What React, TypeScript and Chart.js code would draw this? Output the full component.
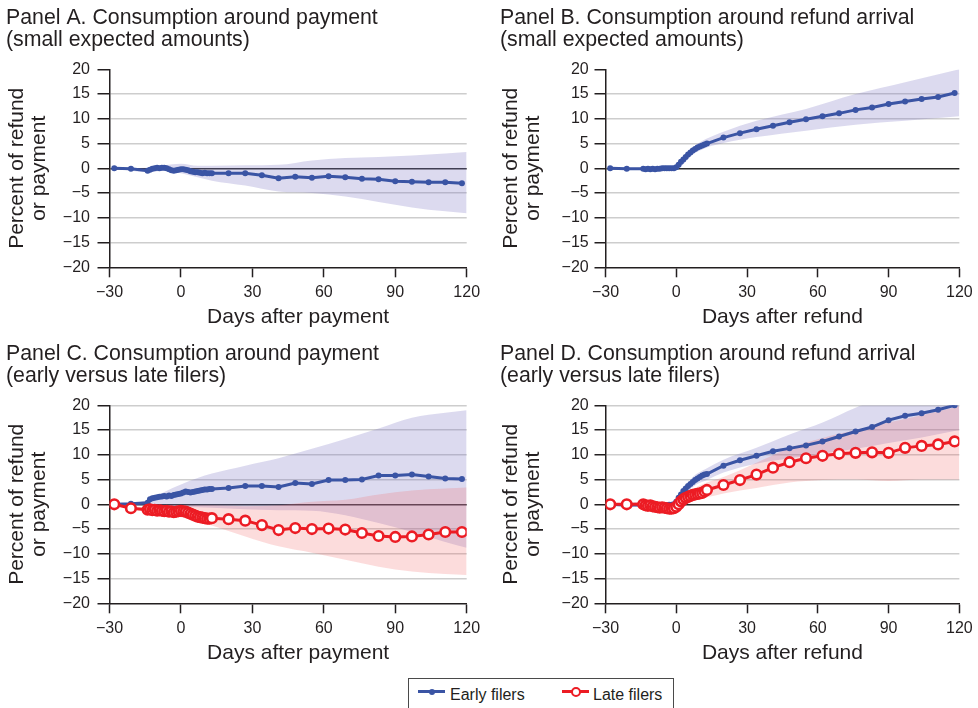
import React, { useEffect, useRef } from 'react';
import { Chart, registerables } from 'chart.js';

Chart.register(...registerables);

const FONT = "'Liberation Sans', Arial, Helvetica, sans-serif";
const INK = '#231f20';
const BLUE = '#3a54a4';
const RED = '#ec1c24';
const BLUE_BAND = 'rgba(125,120,195,0.27)';
const RED_BAND = 'rgba(240,95,95,0.22)';

// ---------- data ----------
const dayAxis = [
  -28, -21,
  -14, -13, -12, -11, -10, -9, -8, -7, -6, -5, -4, -3, -2, -1,
  0, 1, 2, 3, 4, 5, 6, 7, 8, 9, 10, 11, 12, 13,
  20, 27, 34, 41, 48, 55, 62, 69, 76, 83, 90, 97, 104, 111, 118,
];

const xTickValues = [-30, 0, 30, 60, 90, 120];
const yTickValues = [-20, -15, -10, -5, 0, 5, 10, 15, 20];

// Panel A: consumption around payment (small expected amounts)
const smallPayEffect = [
  0, -0.1,
  -0.5, -0.3, -0.1, 0, 0.1, 0, 0.1, 0.1, 0, -0.2, -0.4, -0.5, -0.4, -0.3,
  -0.2, -0.2, -0.3, -0.4, -0.6, -0.7, -0.8, -0.8, -0.9, -1.0, -0.9, -1.0, -1.0, -1.0,
  -1.0, -1.0, -1.4, -2.0, -1.7, -1.9, -1.6, -1.8, -2.1, -2.2, -2.6, -2.7, -2.8, -2.8, -3.0,
];
const bandDaysA = [-28, -14, -7, 0, 7, 13, 27, 41, 55, 69, 83, 97, 111, 120];
const smallPayUpper = [0, 0.1, 0.6, 0.9, 0.5, 0.5, 0.6, 0.7, 1.6, 2.1, 2.3, 2.6, 3.0, 3.3];
const smallPayLower = [0, -0.8, -0.5, -1.0, -1.8, -2.5, -3.5, -4.7, -5.0, -5.7, -6.8, -7.9, -8.7, -9.1];

// Panel B: consumption around refund arrival (small expected amounts)
const smallRefEffect = [
  0, -0.1,
  -0.1, -0.2, -0.1, -0.2, -0.1, -0.2, -0.1, -0.1, 0, 0, 0, 0, 0, 0,
  0.2, 0.7, 1.3, 1.8, 2.3, 2.8, 3.2, 3.6, 3.9, 4.2, 4.4, 4.6, 4.8, 5.0,
  6.2, 7.1, 7.9, 8.6, 9.3, 9.9, 10.5, 11.1, 11.8, 12.3, 13.0, 13.5, 14.0, 14.4, 15.2,
];
const bandDaysB = [-28, -14, 0, 7, 13, 20, 34, 55, 76, 97, 120];
const smallRefUpper = [0, 0.1, 0.4, 4.2, 6.0, 7.4, 9.6, 12.0, 15.0, 17.4, 20.0];
const smallRefLower = [0, -0.3, -0.1, 2.8, 4.2, 5.1, 6.3, 7.6, 8.8, 9.6, 10.5];

// Panel C: consumption around payment (early versus late filers)
const earlyPayEffect = [
  0, 0.1,
  0.3, 1.0, 1.2, 1.3, 1.4, 1.5, 1.6, 1.7, 1.6, 1.8, 1.7, 1.9, 2.0, 2.1,
  2.2, 2.4, 2.6, 2.5, 2.4, 2.5, 2.6, 2.7, 2.8, 2.9, 3.0, 3.0, 3.1, 3.1,
  3.3, 3.7, 3.7, 3.5, 4.3, 4.1, 4.9, 4.9, 5.0, 5.8, 5.8, 6.0, 5.6, 5.2, 5.1,
];
const latePayEffect = [
  0, -0.8,
  -1.1, -1.0, -1.2, -1.1, -1.3, -1.2, -1.3, -1.4, -1.3, -1.5, -1.4, -1.6, -1.5, -1.4,
  -1.3, -1.4, -1.5, -1.7, -1.9, -2.1, -2.3, -2.5, -2.6, -2.7, -2.8, -2.9, -2.9, -2.8,
  -3.0, -3.3, -4.2, -5.2, -4.8, -5.0, -4.9, -5.1, -5.8, -6.4, -6.6, -6.5, -6.1, -5.6, -5.6,
];
const bandDaysC = [-28, -14, -7, 0, 7, 13, 27, 41, 55, 69, 83, 97, 111, 120];
const earlyPayUpper = [0, 0.8, 2.5, 4.0, 5.3, 6.2, 7.8, 9.3, 11.2, 13.2, 15.3, 17.5, 18.5, 19.0];
const earlyPayLower = [0, -0.3, -0.4, -0.5, -0.6, -0.7, -1.0, -1.2, -1.3, -2.2, -3.8, -5.6, -7.6, -8.8];
const latePayUpper = [0, -0.6, -0.4, -0.3, -0.2, -0.2, -0.4, -0.2, 0.5, 0.9, 2.0, 2.8, 3.2, 3.4];
const latePayLower = [0, -1.6, -2.0, -2.6, -3.4, -4.3, -6.5, -8.5, -9.8, -11.2, -12.6, -13.6, -14.1, -14.3];

// Panel D: consumption around refund arrival (early versus late filers)
const earlyRefEffect = [
  0, -0.2,
  -0.1, -0.3, -0.4, -0.3, -0.4, -0.3, -0.3, -0.4, -0.3, -0.2, -0.2, -0.1, -0.1, 0.0,
  0.5, 1.3, 2.0, 2.7, 3.2, 3.7, 4.1, 4.5, 4.9, 5.2, 5.5, 5.8, 6.0, 6.1,
  7.8, 8.9, 9.8, 10.7, 11.3, 11.9, 12.7, 13.7, 14.7, 15.6, 17.0, 17.9, 18.4, 19.1, 20.0,
];
const lateRefEffect = [
  0, 0,
  0, -0.2, -0.3, -0.2, -0.4, -0.5, -0.6, -0.7, -0.6, -0.7, -0.8, -0.9, -0.9, -0.8,
  -0.5, 0.0, 0.6, 1.0, 1.3, 1.5, 1.7, 1.9, 2.0, 2.1, 2.2, 2.3, 2.6, 2.9,
  3.9, 4.9, 6.0, 7.4, 8.5, 9.3, 9.8, 10.2, 10.4, 10.5, 10.4, 11.4, 11.8, 12.1, 12.7,
];
const bandDaysD = [-28, -14, -7, 0, 7, 13, 20, 34, 48, 62, 76, 90, 104, 120];
const earlyRefUpper = [0, 0.4, 0.3, 0.8, 5.5, 7.3, 9.0, 11.4, 14.1, 16.5, 19.5, 22.0, 24.0, 26.0];
const earlyRefLower = [0, -0.6, -0.8, -0.4, 3.5, 4.9, 6.4, 8.2, 9.3, 10.2, 11.2, 12.4, 13.5, 15.0];
const lateRefUpper = [0, 0.5, 0.4, 0.2, 3.0, 4.4, 5.5, 8.4, 11.3, 13.4, 15.0, 16.5, 18.0, 19.8];
const lateRefLower = [0, -0.6, -1.2, -1.4, 0.8, 1.4, 2.2, 3.3, 4.4, 4.9, 5.0, 4.7, 5.0, 5.0];

const yAxisTitle = ['Percent of refund', 'or payment'];

// ---------- panel definitions ----------
type Series = { label: string; values: number[]; color: string; open: boolean };
type Band = { days: number[]; upper: number[]; lower: number[]; color: string };
type PanelSpec = {
  left: number; top: number;
  title: string[]; xTitle: string;
  series: Series[]; bands: Band[];
  padLeft: number; yWidth: number; padRight: number;
  tickLen: number; tickPad: number; topGrid: boolean; xTitleShift: number;
};

const CW = 489;
const CH = 335;

const leftGeom = { padLeft: 6, yWidth: 103.5, padRight: 22.3, tickLen: 12, tickPad: 7.5, xTitleShift: 10 };
const rightGeom = { padLeft: 11, yWidth: 105.5, padRight: 15.5, tickLen: 11, tickPad: 5.8, xTitleShift: 0 };

const panels: PanelSpec[] = [
  {
    left: 0, top: 0,
    title: ['Panel A. Consumption around payment', '(small expected amounts)'],
    xTitle: 'Days after payment',
    series: [{ label: 'Small expected amounts', values: smallPayEffect, color: BLUE, open: false }],
    bands: [{ days: bandDaysA, upper: smallPayUpper, lower: smallPayLower, color: BLUE_BAND }],
    ...leftGeom, topGrid: false,
  },
  {
    left: 489, top: 0,
    title: ['Panel B. Consumption around refund arrival', '(small expected amounts)'],
    xTitle: 'Days after refund',
    series: [{ label: 'Small expected amounts', values: smallRefEffect, color: BLUE, open: false }],
    bands: [{ days: bandDaysB, upper: smallRefUpper, lower: smallRefLower, color: BLUE_BAND }],
    ...rightGeom, topGrid: false,
  },
  {
    left: 0, top: 336,
    title: ['Panel C. Consumption around payment', '(early versus late filers)'],
    xTitle: 'Days after payment',
    series: [
      { label: 'Late filers', values: latePayEffect, color: RED, open: true },
      { label: 'Early filers', values: earlyPayEffect, color: BLUE, open: false },
    ],
    bands: [
      { days: bandDaysC, upper: latePayUpper, lower: latePayLower, color: RED_BAND },
      { days: bandDaysC, upper: earlyPayUpper, lower: earlyPayLower, color: BLUE_BAND },
    ],
    ...leftGeom, topGrid: true,
  },
  {
    left: 489, top: 336,
    title: ['Panel D. Consumption around refund arrival', '(early versus late filers)'],
    xTitle: 'Days after refund',
    series: [
      { label: 'Late filers', values: lateRefEffect, color: RED, open: true },
      { label: 'Early filers', values: earlyRefEffect, color: BLUE, open: false },
    ],
    bands: [
      { days: bandDaysD, upper: lateRefUpper, lower: lateRefLower, color: RED_BAND },
      { days: bandDaysD, upper: earlyRefUpper, lower: earlyRefLower, color: BLUE_BAND },
    ],
    ...rightGeom, topGrid: true,
  },
];

const fmt = (v: number) => (v < 0 ? '\u2212' + Math.abs(v) : String(v));

// draws the x-axis title centred on the plot area plus a small offset
const xTitlePlugin = {
  id: 'xTitleText',
  afterDraw(chart: any, _args: any, opts: any) {
    const { ctx, chartArea } = chart;
    ctx.save();
    ctx.font = `21px ${FONT}`;
    ctx.fillStyle = INK;
    ctx.textAlign = 'center';
    ctx.textBaseline = 'alphabetic';
    ctx.fillText(opts.text, (chartArea.left + chartArea.right) / 2 + opts.shift, chart.height - 11.7);
    ctx.restore();
  },
};

function buildConfig(p: PanelSpec): any {
  const datasets: any[] = [];
  p.series.forEach((s) => {
    datasets.push({
      label: s.label,
      data: dayAxis.map((d, i) => ({ x: d, y: s.values[i] })),
      borderColor: s.color,
      borderWidth: 3,
      pointRadius: s.open ? 4.8 : 3,
      pointBackgroundColor: s.open ? '#ffffff' : s.color,
      pointBorderColor: s.color,
      pointBorderWidth: s.open ? 2.6 : 0,
      fill: false,
      tension: 0,
    });
  });
  p.bands.forEach((b) => {
    datasets.push({
      label: 'upper',
      data: b.days.map((d, i) => ({ x: d, y: b.upper[i] })),
      borderColor: 'rgba(0,0,0,0)',
      borderWidth: 0,
      pointRadius: 0,
      backgroundColor: b.color,
      fill: '+1',
      cubicInterpolationMode: 'monotone',
    });
    datasets.push({
      label: 'lower',
      data: b.days.map((d, i) => ({ x: d, y: b.lower[i] })),
      borderColor: 'rgba(0,0,0,0)',
      borderWidth: 0,
      pointRadius: 0,
      fill: false,
      cubicInterpolationMode: 'monotone',
    });
  });

  return {
    type: 'line',
    data: { datasets },
    plugins: [xTitlePlugin],
    options: {
      animation: false,
      responsive: false,
      events: [],
      layout: { padding: { left: p.padLeft, right: p.padRight, top: 0, bottom: 0 } },
      plugins: {
        legend: { display: false },
        tooltip: { enabled: false },
        xTitleText: { text: p.xTitle, shift: p.xTitleShift },
        title: {
          display: true,
          text: p.title,
          align: 'start',
          color: INK,
          font: { family: FONT, size: 21.3, weight: 'normal', lineHeight: 1.035 },
          padding: { top: 7, bottom: 18.2 },
        },
      },
      scales: {
        x: {
          type: 'linear',
          min: -30,
          max: 120,
          afterBuildTicks: (s: any) => { s.ticks = xTickValues.map((v) => ({ value: v })); },
          afterFit: (s: any) => { s.height = 67.7; },
          ticks: {
            autoSkip: false,
            maxRotation: 0,
            color: INK,
            padding: 5.3,
            font: { family: FONT, size: 16 },
            callback: (v: any) => fmt(Number(v)),
          },
          grid: {
            drawOnChartArea: false,
            drawTicks: true,
            tickLength: 10,
            tickColor: INK,
            tickWidth: 1.5,
          },
          border: { display: true, color: INK, width: 1.5 },
          title: { display: false },
        },
        y: {
          type: 'linear',
          min: -20,
          max: 20,
          afterBuildTicks: (s: any) => { s.ticks = yTickValues.map((v) => ({ value: v })); },
          afterFit: (s: any) => { s.width = p.yWidth; },
          ticks: {
            autoSkip: false,
            color: INK,
            padding: p.tickPad,
            font: { family: FONT, size: 16 },
            callback: (v: any) => fmt(Number(v)),
          },
          grid: {
            drawOnChartArea: true,
            drawTicks: true,
            tickLength: p.tickLen,
            tickColor: INK,
            tickWidth: 1.5,
            lineWidth: 1.5,
            color: (c: any) => {
              const v = c.tick ? c.tick.value : null;
              if (v === 0) return '#2a2a2a';
              if (v === -20) return 'rgba(0,0,0,0)';
              if (v === 20 && !p.topGrid) return 'rgba(0,0,0,0)';
              return '#cdcdcd';
            },
          },
          border: { display: true, color: INK, width: 1.5 },
          title: {
            display: true,
            text: yAxisTitle,
            color: INK,
            font: { family: FONT, size: 21, lineHeight: 1.05 },
            padding: { top: 0, bottom: 0 },
          },
        },
      },
    },
  };
}

function Panel({ spec }: { spec: PanelSpec }) {
  const ref = useRef<HTMLCanvasElement>(null);
  useEffect(() => {
    if (!ref.current) return;
    const chart = new Chart(ref.current, buildConfig(spec));
    return () => chart.destroy();
  }, [spec]);
  return (
    <div style={{ position: 'absolute', left: spec.left, top: spec.top, width: CW, height: CH }}>
      <canvas ref={ref} width={CW} height={CH} style={{ display: 'block', width: CW, height: CH }} />
    </div>
  );
}

const legendItems = [
  { label: 'Early filers', color: BLUE, open: false },
  { label: 'Late filers', color: RED, open: true },
];

function Legend() {
  const lineLeft = [9, 153];
  const textLeft = [41, 184];
  return (
    <div
      style={{
        position: 'absolute', left: 408, top: 678, width: 266, height: 30,
        boxSizing: 'border-box', border: '1px solid #4a4a4a', borderBottom: 'none',
        fontFamily: FONT, fontSize: 16, color: INK, background: '#fff',
      }}
    >
      {legendItems.map((it, i) => (
        <React.Fragment key={it.label}>
          <div style={{ position: 'absolute', left: lineLeft[i], top: 11.2, width: 27, height: 3, background: it.color }} />
          {it.open ? (
            <div style={{
              position: 'absolute', left: lineLeft[i] + 8.5, top: 7.7, width: 10, height: 10,
              boxSizing: 'border-box', borderRadius: '50%', border: `2.5px solid ${it.color}`, background: '#fff',
            }} />
          ) : (
            <div style={{
              position: 'absolute', left: lineLeft[i] + 10.5, top: 9.7, width: 6, height: 6,
              borderRadius: '50%', background: it.color,
            }} />
          )}
          <span style={{ position: 'absolute', left: textLeft[i], top: 6.5, lineHeight: '18px', whiteSpace: 'nowrap' }}>
            {it.label}
          </span>
        </React.Fragment>
      ))}
    </div>
  );
}

export default function App() {
  return (
    <div style={{ position: 'fixed', left: 0, top: 0, width: 978, height: 708, overflow: 'hidden', background: '#fff' }}>
      {panels.map((p) => (
        <Panel key={p.title[0]} spec={p} />
      ))}
      <Legend />
    </div>
  );
}
